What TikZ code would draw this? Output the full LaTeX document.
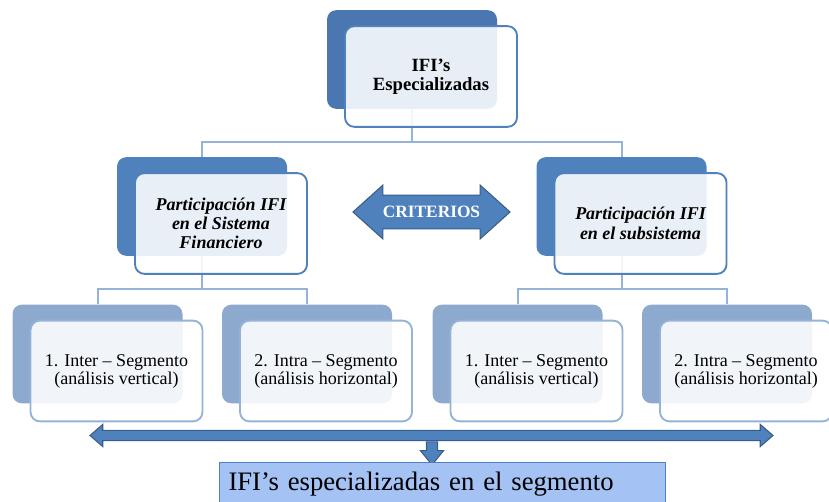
\documentclass[tikz,border=0pt]{standalone}
\usepackage{fontspec}
\setmainfont{Liberation Serif}
\usetikzlibrary{shapes.arrows}

\definecolor{topblue}{RGB}{74,118,178}
\definecolor{boxblue}{RGB}{79,129,189}
\definecolor{paleblue}{RGB}{142,169,206}
\definecolor{lineblue}{RGB}{149,179,215}
\definecolor{edgeblue}{RGB}{56,93,138}
\definecolor{resultblue}{RGB}{164,194,243}

\tikzset{
  backbox/.style={rectangle, rounded corners=7pt, minimum width=127.5pt, minimum height=74pt, inner sep=0pt},
  frontbox/.style={rectangle, rounded corners=7pt, minimum width=129pt, minimum height=75.5pt, line width=1.4pt,
    fill=white, fill opacity=0.88, text opacity=1, align=center, inner sep=2pt},
  link/.style={draw=lineblue, line width=1.5pt},
  bigarrow/.style={fill=boxblue, draw=edgeblue, line width=0.8pt},
}

\begin{document}
\begin{tikzpicture}[x=0.75pt, y=-0.75pt]
    \useasboundingbox (0,0) rectangle (829,502);

    % back boxes
    \node[backbox, fill=topblue] (topB) at (412,59.5) {};
    \node[backbox, fill=boxblue] (sysB) at (202,206.5) {};
    \node[backbox, fill=boxblue] (subB) at (621.5,206.5) {};
    \node[backbox, fill=paleblue] (interLB) at (97.5,354) {};
    \node[backbox, fill=paleblue] (intraLB) at (307,354) {};
    \node[backbox, fill=paleblue] (interRB) at (517.5,354) {};
    \node[backbox, fill=paleblue] (intraRB) at (727,354) {};

    % tree lines
    \draw[link] (topB.south) -- ++(0,33) coordinate (topJ);
    \draw[link] (sysB.north) |- (topJ) -| (subB.north);
    \draw[link] (sysB.south) -- ++(0,33) coordinate (sysJ);
    \draw[link] (interLB.north) |- (sysJ) -| (intraLB.north);
    \draw[link] (subB.south) -- ++(0,33) coordinate (subJ);
    \draw[link] (interRB.north) |- (subJ) -| (intraRB.north);

    % front boxes
    \node[frontbox, draw=boxblue, font=\bfseries\fontsize{14}{14}\selectfont] (topF) at ([shift={(19,17)}]topB) {IFI’s\\Especializadas};
    \node[frontbox, draw=boxblue, font=\bfseries\itshape\fontsize{13.5}{14.5}\selectfont] (sysF) at ([shift={(19,17)}]sysB) {Participación IFI\\en el Sistema\\Financiero};
    \node[frontbox, draw=boxblue, font=\bfseries\itshape\fontsize{13.5}{14.5}\selectfont] (subF) at ([shift={(19,17)}]subB) {Participación IFI\\en el subsistema};
    \node[frontbox, draw=lineblue, font=\fontsize{13.5}{13.5}\selectfont] (interLF) at ([shift={(19,17)}]interLB) {1. Inter – Segmento\\(análisis vertical)};
    \node[frontbox, draw=lineblue, font=\fontsize{13.5}{13.5}\selectfont] (intraLF) at ([shift={(19,17)}]intraLB) {2. Intra – Segmento\\(análisis horizontal)};
    \node[frontbox, draw=lineblue, font=\fontsize{13.5}{13.5}\selectfont] (interRF) at ([shift={(19,17)}]interRB) {1. Inter – Segmento\\(análisis vertical)};
    \node[frontbox, draw=lineblue, font=\fontsize{13.5}{13.5}\selectfont] (intraRF) at ([shift={(19,17)}]intraRB) {2. Intra – Segmento\\(análisis horizontal)};

    % arrows
    \node[double arrow, bigarrow, minimum height=117.75pt, minimum width=39pt, double arrow head extend=7.5pt,
      double arrow tip angle=84, inner ysep=7.9pt, inner xsep=2pt, text=white,
      font=\bfseries\fontsize{13}{13}\selectfont] (crit) at (431.5,212) {CRITERIOS};
    \node[double arrow, bigarrow, minimum height=512.25pt, minimum width=15.75pt, double arrow head extend=4.5pt,
      double arrow tip angle=82, inner sep=3.4pt] (span) at (431.5,435.5) {};
    \node[single arrow, bigarrow, shape border rotate=270, minimum height=17.25pt, minimum width=15.75pt,
      single arrow head extend=4.5pt, single arrow tip angle=78, inner sep=3.75pt] (drop) at (432,450) {};

    % result
    \node[rectangle, draw=boxblue, fill=resultblue, line width=0.8pt, anchor=north west, minimum height=33pt,
      text width=321pt, inner xsep=6.75pt, align=left, font=\fontsize{20}{24}\selectfont] (result) at (219,462)
      {IFI’s especializadas en el segmento};
\end{tikzpicture}
\end{document}
